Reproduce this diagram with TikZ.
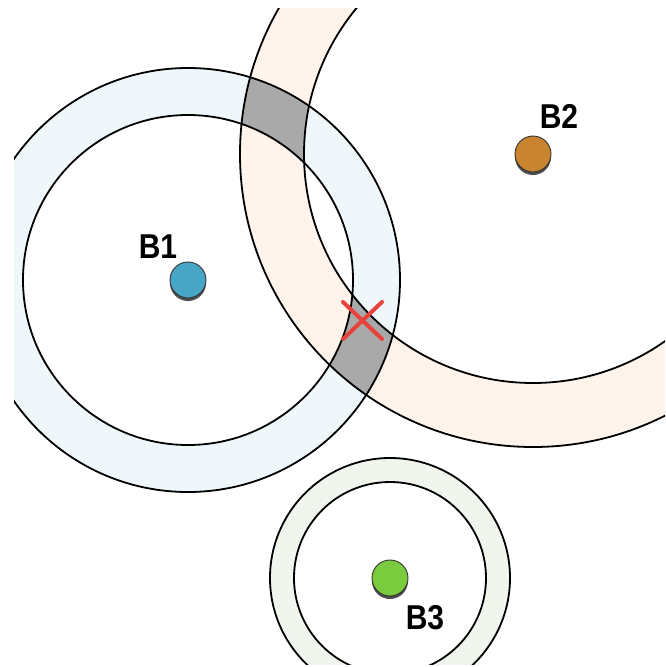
\documentclass[tikz,border=0pt]{standalone}
\usepackage{fontspec}
\setmainfont{Liberation Sans}
\definecolor{ringblue}{HTML}{F0F7FA}
\definecolor{ringpeach}{HTML}{FEF4EB}
\definecolor{ringgreen}{HTML}{F0F5EE}
\definecolor{overlapgray}{HTML}{A9A9A9}
\definecolor{dotblue}{HTML}{4AA6C6}
\definecolor{dotorange}{HTML}{C8842F}
\definecolor{dotgreen}{HTML}{7BCB3E}
\definecolor{crossred}{HTML}{E8423C}
\newcommand{\beaconlabel}[1]{\scalebox{1}[1.15]{#1}}
\begin{document}
\begin{tikzpicture}[x=1pt,y=-1pt,
  edge/.style={draw=black, line width=1.8pt},
  beacon/.style={circle, minimum size=36pt, inner sep=0pt, draw=black!80, line width=0.9pt,
    preaction={fill=black!70, transform canvas={yshift=-3pt}}},
  tag/.style={font=\bfseries\fontsize{30}{30}\selectfont, inner sep=0pt},
  cross/.style={draw=crossred, line width=4pt, line cap=round}]
\useasboundingbox (0,0) rectangle (665,667);
% beacon centres and ring radii
\coordinate (c1) at (188,280);
\coordinate (c2) at (533,154);
\coordinate (c3) at (390,578);
\begin{scope}
  \clip (14,8) rectangle (665,664);
  % range rings
  \fill[ringblue, even odd rule] (c1) circle[radius=212] (c1) circle[radius=165];
  \fill[ringpeach, even odd rule] (c2) circle[radius=293] (c2) circle[radius=229];
  \fill[ringgreen, even odd rule] (c3) circle[radius=120] (c3) circle[radius=96];
  % where the rings of B1 and B2 overlap
  \begin{scope}[even odd rule]
    \clip (c2) circle[radius=293] (c2) circle[radius=229];
    \fill[overlapgray] (c1) circle[radius=212] (c1) circle[radius=165];
  \end{scope}
  % ring outlines
  \draw[edge] (c1) circle[radius=212] (c1) circle[radius=165];
  \draw[edge] (c2) circle[radius=293] (c2) circle[radius=229];
  \draw[edge] (c3) circle[radius=120] (c3) circle[radius=96];
\end{scope}
% beacons
\node[beacon, fill=dotblue] (b1) at (c1) {};
\node[beacon, fill=dotorange] (b2) at (c2) {};
\node[beacon, fill=dotgreen] (b3) at (c3) {};
\node[tag] (l1) at (158,247) {\beaconlabel{B1}};
\node[tag] (l2) at (559,116) {\beaconlabel{B2}};
\node[tag] (l3) at (425,618) {\beaconlabel{B3}};
% estimated position
\coordinate (x1) at (343,302);
\coordinate (x2) at (382,339);
\coordinate (x3) at (382,302);
\coordinate (x4) at (343,339);
\draw[cross] (x1) -- (x2);
\draw[cross] (x3) -- (x4);
\end{tikzpicture}
\end{document}
